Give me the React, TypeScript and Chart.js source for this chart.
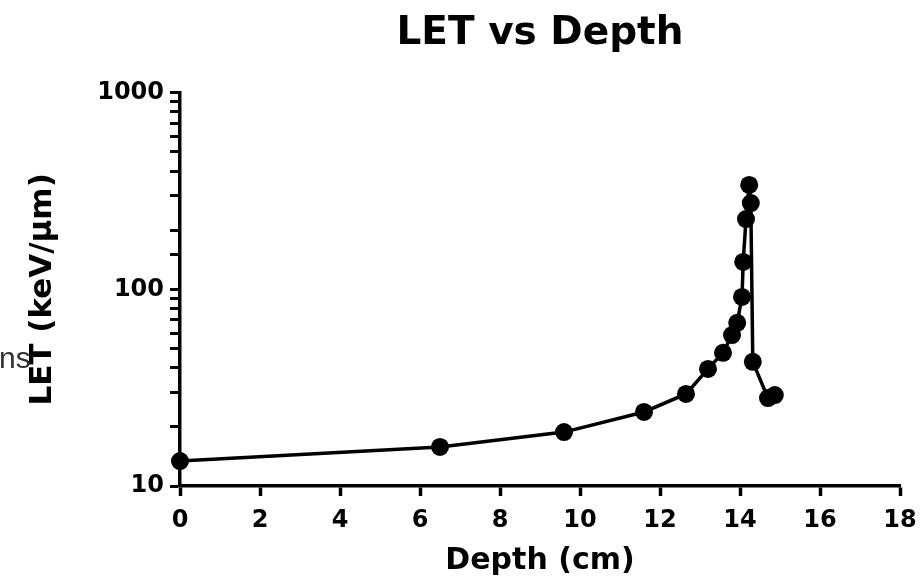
import React, { useEffect, useRef } from "react";
import { Chart, registerables } from "chart.js";

Chart.register(...registerables);

const depthCm = [0, 6.5, 9.6, 11.6, 12.65, 13.2, 13.575, 13.8, 13.93, 14.05, 14.08, 14.15, 14.23, 14.27, 14.32, 14.7, 14.87];
const letValues = [13.4, 15.8, 18.8, 23.8, 29.4, 39.4, 47.6, 58.6, 67.6, 91.6, 138, 228, 340, 275, 42.8, 28, 29];
const xTicks = [0, 2, 4, 6, 8, 10, 12, 14, 16, 18];
const yMajorTicks = [10, 100, 1000];

const FONT = "'DejaVu Sans', 'Liberation Sans', Arial, sans-serif";

const nsPlugin = {
  id: "strayText",
  afterDraw(chart: any) {
    const ctx = chart.ctx;
    ctx.save();
    ctx.font = `30px 'Liberation Sans', Arial, sans-serif`;
    ctx.fillStyle = "#333333";
    ctx.textBaseline = "alphabetic";
    ctx.textAlign = "left";
    ctx.fillText("ns", -1, 368);
    ctx.restore();
  },
};

export default function App() {
  const ref = useRef<HTMLCanvasElement | null>(null);
  useEffect(() => {
    if (!ref.current) return;
    const points = depthCm.map((x, i) => ({ x, y: letValues[i] }));
    const chart = new Chart(ref.current, {
      type: "scatter",
      data: {
        datasets: [
          {
            data: points,
            showLine: true,
            clip: false,
            borderColor: "#000",
            backgroundColor: "#000",
            borderWidth: 3.5,
            pointRadius: 9,
            pointBorderWidth: 0,
            pointBackgroundColor: "#000",
          },
        ],
      },
      options: {
        responsive: false,
        animation: false,
        layout: { padding: { left: 0, right: 24, top: 0, bottom: 0 } },
        plugins: {
          legend: { display: false },
          tooltip: { enabled: false },
          title: {
            display: true,
            text: "LET vs Depth",
            fullSize: false,
            color: "#000",
            font: { family: FONT, size: 39, weight: "bold" },
            padding: { top: 10, bottom: 36 },
          },
        },
        scales: {
          x: {
            type: "linear",
            min: 0,
            max: 18,
            afterFit: (s: any) => {
              s.height = 93;
              s.paddingRight = 0;
              s.paddingLeft = 0;
            },
            afterBuildTicks: (s: any) => {
              s.ticks = xTicks.map((v) => ({ value: v }));
            },
            ticks: {
              color: "#000",
              font: { family: FONT, size: 24, weight: "bold" },
              padding: 10,
              autoSkip: false,
              maxRotation: 0,
            },
            grid: {
              drawOnChartArea: false,
              drawTicks: true,
              tickLength: 10,
              tickWidth: 3.5,
              tickColor: "#000",
            },
            border: { display: true, color: "#000", width: 3.5 },
            title: {
              display: true,
              text: "Depth (cm)",
              color: "#000",
              font: { family: FONT, size: 30, weight: "bold" },
              padding: { top: 0, bottom: 0 },
            },
          },
          y: {
            type: "logarithmic",
            min: 10,
            max: 1000,
            afterFit: (s: any) => {
              s.width = 180;
            },
            ticks: {
              color: "#000",
              font: { family: FONT, size: 24, weight: "bold" },
              padding: 6,
              autoSkip: false,
              callback: (v: any) => (yMajorTicks.includes(Number(v)) ? String(v) : ""),
            },
            grid: {
              drawOnChartArea: false,
              drawTicks: true,
              tickLength: 10,
              tickWidth: 3,
              tickColor: "#000",
            },
            border: { display: true, color: "#000", width: 3.5 },
            title: {
              display: true,
              text: "LET (keV/μm)",
              color: "#000",
              font: { family: FONT, size: 31, weight: "bold" },
              padding: { top: 24, bottom: 0 },
            },
          },
        },
      },
      plugins: [nsPlugin],
    });
    return () => chart.destroy();
  }, []);
  return (
    <canvas
      ref={ref}
      width={924}
      height={579}
      style={{ position: "fixed", left: 0, top: 0, width: 924, height: 579, background: "#fff" }}
    />
  );
}
